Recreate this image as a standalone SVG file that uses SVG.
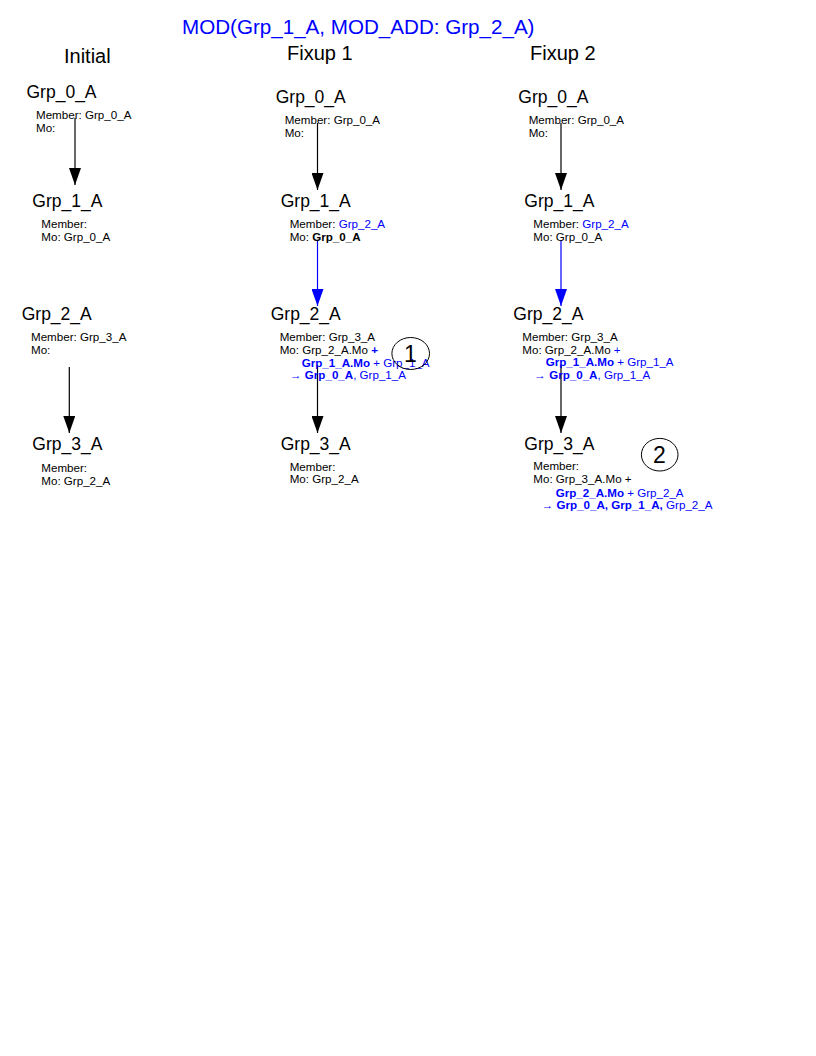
<svg xmlns="http://www.w3.org/2000/svg" width="816" height="1056" viewBox="0 0 816 1056">
<style>
text{font-family:"Liberation Sans",Arial,sans-serif;fill:#000}
.hd{font-size:20px}
.ttl{font-size:20.6px;fill:#0000ff}
.nt{font-size:17.5px}
.sm{font-size:11.6px}
.b{fill:#0000ff}
.bb{fill:#0000ff;font-weight:bold}
.k{font-weight:bold}
.num{font-size:23px;text-anchor:middle}
.blk{stroke:#000;stroke-width:1.2;fill:none}
.blu{stroke:#0000ff;stroke-width:1.2;fill:none}
</style>
<defs>
<marker id="ah" viewBox="0 0 17 12" refX="17" refY="6" markerWidth="17" markerHeight="12" markerUnits="userSpaceOnUse" orient="auto">
<path d="M0,0 L17,6 L0,12 Z" fill="#000"/>
</marker>
<marker id="ahb" viewBox="0 0 17 12" refX="17" refY="6" markerWidth="17" markerHeight="12" markerUnits="userSpaceOnUse" orient="auto">
<path d="M0,0 L17,6 L0,12 Z" fill="#0000ff"/>
</marker>
</defs>
<rect width="816" height="1056" fill="#fff"/>
<g id="headers">
<text class="ttl" x="182" y="34">MOD(Grp_1_A, MOD_ADD: Grp_2_A)</text>
<text class="hd" x="64" y="63">Initial</text>
<text class="hd" x="287" y="60">Fixup 1</text>
<text class="hd" x="530" y="60">Fixup 2</text>
</g>
<g id="connectors">
<path class="blk" d="M75,118 V185" marker-end="url(#ah)"/>
<path class="blk" d="M69.3,367 V433" marker-end="url(#ah)"/>
<path class="blk" d="M317.5,123 V190" marker-end="url(#ah)"/>
<path class="blu" d="M317.5,240 V306" marker-end="url(#ahb)"/>
<path class="blk" d="M317.5,365 V433" marker-end="url(#ah)"/>
<path class="blk" d="M561,123 V190" marker-end="url(#ah)"/>
<path class="blu" d="M561,240 V306" marker-end="url(#ahb)"/>
<path class="blk" d="M561,365 V433" marker-end="url(#ah)"/>
</g>
<g id="init_grp0">
<text class="nt" x="26.5" y="98">Grp_0_A</text>
<text class="sm" x="36" y="119">Member: Grp_0_A</text>
<text class="sm" x="36" y="131.5">Mo:</text>
</g>
<g id="init_grp1">
<text class="nt" x="32.3" y="207">Grp_1_A</text>
<text class="sm" x="41.3" y="227.5">Member:</text>
<text class="sm" x="41.3" y="241">Mo: Grp_0_A</text>
</g>
<g id="init_grp2">
<text class="nt" x="21.7" y="319.5">Grp_2_A</text>
<text class="sm" x="31" y="340.5">Member: Grp_3_A</text>
<text class="sm" x="31" y="354">Mo:</text>
</g>
<g id="init_grp3">
<text class="nt" x="32.3" y="450">Grp_3_A</text>
<text class="sm" x="41.3" y="471.5">Member:</text>
<text class="sm" x="41.3" y="485">Mo: Grp_2_A</text>
</g>
<g id="f1_grp0">
<text class="nt" x="275.7" y="103.3">Grp_0_A</text>
<text class="sm" x="284.7" y="124.3">Member: Grp_0_A</text>
<text class="sm" x="284.7" y="136.7">Mo:</text>
</g>
<g id="f1_grp1">
<text class="nt" x="280.7" y="207.3">Grp_1_A</text>
<text class="sm" x="289.7" y="228.3">Member: <tspan class="b">Grp_2_A</tspan></text>
<text class="sm" x="289.7" y="241">Mo: <tspan class="k">Grp_0_A</tspan></text>
</g>
<g id="f1_grp2">
<text class="nt" x="270.7" y="320">Grp_2_A</text>
<text class="sm" x="279.7" y="340.7">Member: Grp_3_A</text>
<text class="sm" x="279.7" y="354">Mo: Grp_2_A.Mo <tspan class="bb">+</tspan></text>
<text class="sm" x="301.7" y="366.7"><tspan class="bb">Grp_1_A.Mo</tspan><tspan class="b"> + Grp_1_A</tspan></text>
<text class="sm" x="290" y="379.3"><tspan class="b">→ </tspan><tspan class="bb">Grp_0_A</tspan><tspan class="b">, Grp_1_A</tspan></text>
</g>
<g id="f1_grp3">
<text class="nt" x="280.7" y="450">Grp_3_A</text>
<text class="sm" x="289.7" y="470.7">Member:</text>
<text class="sm" x="289.7" y="483.3">Mo: Grp_2_A</text>
</g>
<g id="mark1">
<ellipse cx="410.7" cy="353.5" rx="18.8" ry="16" fill="none" stroke="#000" stroke-width="1"/>
<text class="num" x="410.5" y="362.3">1</text>
</g>
<g id="f2_grp0">
<text class="nt" x="518.3" y="103.3">Grp_0_A</text>
<text class="sm" x="528.7" y="124.3">Member: Grp_0_A</text>
<text class="sm" x="528.7" y="136.7">Mo:</text>
</g>
<g id="f2_grp1">
<text class="nt" x="524.3" y="207.3">Grp_1_A</text>
<text class="sm" x="533.3" y="228.3">Member: <tspan class="b">Grp_2_A</tspan></text>
<text class="sm" x="533.3" y="241">Mo: Grp_0_A</text>
</g>
<g id="f2_grp2">
<text class="nt" x="513.3" y="320">Grp_2_A</text>
<text class="sm" x="522.3" y="340.5">Member: Grp_3_A</text>
<text class="sm" x="522.3" y="353.5">Mo: Grp_2_A.Mo <tspan class="b">+</tspan></text>
<text class="sm" x="545.7" y="366.3"><tspan class="bb">Grp_1_A.Mo</tspan><tspan class="b"> + Grp_1_A</tspan></text>
<text class="sm" x="534.3" y="379"><tspan class="b">→ </tspan><tspan class="bb">Grp_0_A</tspan><tspan class="b">, Grp_1_A</tspan></text>
</g>
<g id="f2_grp3">
<text class="nt" x="524.3" y="450">Grp_3_A</text>
<text class="sm" x="533.3" y="470">Member:</text>
<text class="sm" x="533.3" y="483.3">Mo: Grp_3_A.Mo +</text>
<text class="sm" x="555.7" y="496.7"><tspan class="bb">Grp_2_A.Mo</tspan><tspan class="b"> + Grp_2_A</tspan></text>
<text class="sm" x="541.7" y="509.3"><tspan class="b">→ </tspan><tspan class="bb">Grp_0_A, Grp_1_A,</tspan><tspan class="b"> Grp_2_A</tspan></text>
</g>
<g id="mark2">
<ellipse cx="659.7" cy="454.7" rx="18.3" ry="16.3" fill="none" stroke="#000" stroke-width="1"/>
<text class="num" x="659.5" y="463">2</text>
</g>
</svg>
